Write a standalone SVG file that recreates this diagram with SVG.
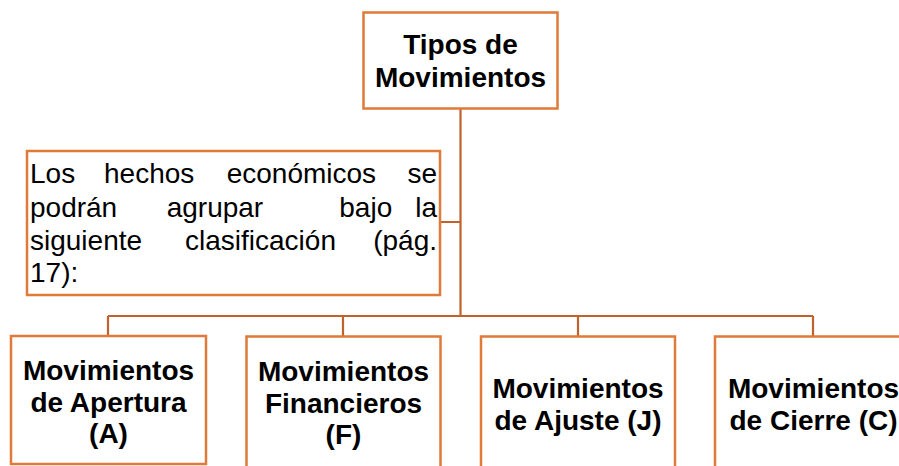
<svg xmlns="http://www.w3.org/2000/svg" width="899" height="466" viewBox="0 0 899 466">
<style>
.box{fill:#fff;stroke:#E07A38;stroke-width:2.5}
.con{fill:none;stroke:#C0622B;stroke-width:2.2}
.t{font-family:"Liberation Sans",Arial,sans-serif;font-size:28px;font-weight:bold;fill:#000;text-anchor:middle}
.p{font-family:"Liberation Sans",Arial,sans-serif;font-size:28px;fill:#000}
</style>
<rect width="899" height="466" fill="#fff"/>
<g id="connectors">
<path class="con" d="M460.5,108 V316 M440,222 H460.5 M108,316 H813 M108,316 V336 M343,316 V336 M578,316 V336 M813,316 V336"/>
</g>
<g id="root">
<rect class="box" x="363.5" y="12.5" width="194" height="96"/>
<text class="t" x="460.5" y="54">Tipos de</text>
<text class="t" x="460.5" y="87">Movimientos</text>
</g>
<g id="note">
<rect class="box" x="27" y="151" width="413" height="144"/>
<text class="p" y="183"><tspan x="30">Los</tspan><tspan x="104">hechos</tspan><tspan x="226.7">económicos</tspan><tspan x="437" text-anchor="end">se</tspan></text>
<text class="p" y="216.5"><tspan x="30">podrán</tspan><tspan x="166.7">agrupar</tspan><tspan x="339.3">bajo</tspan><tspan x="437" text-anchor="end">la</tspan></text>
<text class="p" y="250"><tspan x="30">siguiente</tspan><tspan x="185">clasificación</tspan><tspan x="437" text-anchor="end">(pág.</tspan></text>
<text class="p" y="282"><tspan x="30">17):</tspan></text>
</g>
<g id="apertura">
<rect class="box" x="11" y="336" width="195" height="128"/>
<text class="t" x="108.5" y="380">Movimientos</text>
<text class="t" x="108.5" y="411.5">de Apertura</text>
<text class="t" x="108.5" y="443">(A)</text>
</g>
<g id="financieros">
<rect class="box" x="246.5" y="336.5" width="194" height="140"/>
<text class="t" x="343.5" y="381">Movimientos</text>
<text class="t" x="343.5" y="412.5">Financieros</text>
<text class="t" x="343.5" y="444">(F)</text>
</g>
<g id="ajuste">
<rect class="box" x="481" y="336.5" width="194" height="140"/>
<text class="t" x="578" y="398">Movimientos</text>
<text class="t" x="578" y="429.5">de Ajuste (J)</text>
</g>
<g id="cierre">
<rect class="box" x="715" y="336.5" width="196" height="140"/>
<text class="t" x="813.5" y="398">Movimientos</text>
<text class="t" x="813.5" y="429.5">de Cierre (C)</text>
</g>
</svg>
